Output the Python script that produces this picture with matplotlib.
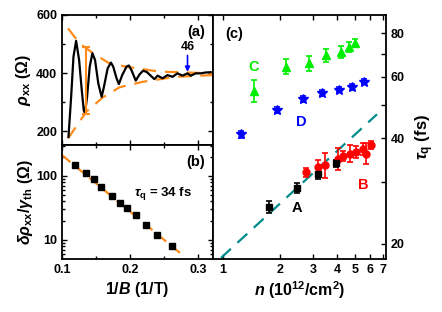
import matplotlib
matplotlib.use('Agg')
import matplotlib.pyplot as plt
from matplotlib.ticker import FixedLocator, FixedFormatter, NullFormatter, NullLocator

plt.rcParams['font.family'] = ['Liberation Sans', 'DejaVu Sans']
plt.rcParams['font.weight'] = 'bold'
plt.rcParams['axes.labelweight'] = 'bold'
plt.rcParams['mathtext.fontset'] = 'custom'
plt.rcParams['mathtext.rm'] = 'Liberation Sans:bold'
plt.rcParams['mathtext.it'] = 'Liberation Sans:italic:bold'
plt.rcParams['mathtext.bf'] = 'Liberation Sans:bold'

# (a) SdH oscillation, rho_xx vs 1/B
inv_b_a = [0.1097, 0.1136, 0.117, 0.1209, 0.1253, 0.1292, 0.1321, 0.134, 0.137, 0.1409,
           0.1448, 0.1487, 0.1535, 0.1584, 0.1618, 0.1672, 0.172, 0.1754, 0.1803, 0.1837,
           0.1886, 0.1949, 0.1983, 0.2022, 0.2085, 0.2139, 0.2192, 0.2245, 0.2300, 0.2358,
           0.2406, 0.2479, 0.2552, 0.2625, 0.2698, 0.2771, 0.2844, 0.2893, 0.2966, 0.3039,
           0.3112, 0.3185]
rho_a = [180, 318, 456, 511, 445, 341, 272, 261, 318, 422,
         468, 445, 364, 318, 353, 416, 436, 422, 382, 362,
         393, 422, 426, 410, 374, 395, 408, 404, 392, 379,
         391, 382, 393, 387, 399, 391, 399, 391, 399, 399,
         402, 403]
env_x = [0.109, 0.126, 0.146, 0.170, 0.1945, 0.243, 0.321]
env_upper = [554, 502, 468, 433, 422, 405, 399]
env_low_x = [0.109, 0.136, 0.160, 0.1847, 0.219, 0.267, 0.321]
env_lower = [175, 267, 316, 351, 370, 387, 393]
bar_x = 0.135
bar_lo, bar_hi = 260, 491
arrow_x = 0.2845

# (b) Dingle plot
inv_b_b = [0.120, 0.135, 0.147, 0.158, 0.173, 0.186, 0.196, 0.209, 0.224, 0.239, 0.261]
amp_b = [148, 113, 89, 68, 48.7, 38.3, 31.3, 24, 17.1, 12, 8.05]
fit_b_x = [0.1, 0.275]
fit_b_y = [213, 6.0]

# (c) tau_q vs n
n_A = [1.75, 2.46, 3.17, 3.94]
tau_A = [25.4, 28.9, 31.7, 34.0]
err_A = [1.0, 1.0, 1.0, 0.8]
n_B = [2.76, 3.17, 3.47, 4.05, 4.30, 4.66, 5.05, 5.47, 5.70, 6.01]
tau_B = [32.0, 33.1, 33.6, 35.0, 35.6, 36.2, 36.6, 37.4, 36.2, 38.2]
err_B = [1.0, 1.5, 2.8, 2.5, 1.2, 2.0, 1.5, 1.5, 2.5, 1.0]
n_C = [1.46, 2.16, 2.84, 3.51, 4.22, 4.62, 4.95]
tau_C = [54.7, 64.2, 65.6, 69.3, 70.8, 73.2, 74.9]
err_C = [4.0, 3.2, 3.2, 3.0, 3.0, 2.5, 2.0]
n_D = [1.25, 1.93, 2.65, 3.35, 4.08, 4.79, 5.52]
tau_D = [41.1, 48.2, 52.0, 54.0, 55.2, 56.2, 58.1]
err_D = [1.0, 1.0, 1.0, 1.0, 1.0, 1.0, 1.0]
fit_c_n = [0.98, 6.5]
fit_c_tau = [18.2, 46.9]

orange = '#ff8c1a'
teal = '#008b8b'
green = '#00ee00'

fig = plt.figure(figsize=(4.42, 3.12), dpi=100)
ax_a = fig.add_axes([0.140, 0.535, 0.342, 0.417])
ax_b = fig.add_axes([0.140, 0.171, 0.342, 0.364], sharex=ax_a)
ax_c = fig.add_axes([0.482, 0.171, 0.391, 0.781])

for ax in (ax_a, ax_b, ax_c):
    for s in ax.spines.values():
        s.set_linewidth(1.3)
    ax.tick_params(which='both', direction='in', top=True, right=True,
                   width=1.0, labelsize=9)
    ax.tick_params(which='major', length=3.5)
    ax.tick_params(which='minor', length=2.5)

# panel (a)
ax_a.plot(env_x, env_upper, color=orange, lw=1.6, dashes=(6, 4))
ax_a.plot(env_low_x, env_lower, color=orange, lw=1.6, dashes=(6, 4))
ax_a.plot(inv_b_a, rho_a, color='black', lw=1.6)
ax_a.errorbar([bar_x], [(bar_lo + bar_hi) / 2], yerr=[(bar_hi - bar_lo) / 2],
              fmt='none', ecolor=orange, elinewidth=1.5, capsize=3, capthick=1.5)
ax_a.annotate('46', xy=(arrow_x, 404), xytext=(arrow_x, 470), ha='center', va='bottom',
              fontsize=9, fontweight='bold',
              arrowprops=dict(arrowstyle='-|>', color='blue', lw=1.2, mutation_scale=7,
                              shrinkA=0, shrinkB=0))
ax_a.set_ylim(152, 600)
ax_a.set_xlim(0.1, 0.322)
ax_a.yaxis.set_major_locator(FixedLocator([200, 400, 600]))
ax_a.yaxis.set_minor_locator(FixedLocator([300, 500]))
ax_a.xaxis.set_major_locator(FixedLocator([0.1, 0.2, 0.3]))
ax_a.xaxis.set_minor_locator(FixedLocator([0.15, 0.25]))
ax_a.tick_params(labelbottom=False)
ax_a.set_ylabel(r'$\rho_{\mathbf{xx}}$ ($\Omega$)', fontsize=11.5, labelpad=2)
ax_a.text(0.95, 0.87, '(a)', transform=ax_a.transAxes, ha='right', va='center',
          fontsize=10.5, fontweight='bold')

# panel (b)
ax_b.set_yscale('log')
ax_b.plot(fit_b_x, fit_b_y, color=orange, lw=1.6, dashes=(5, 3))
ax_b.plot(inv_b_b, amp_b, 's', color='black', ms=4.5)
ax_b.set_ylim(5.05, 305)
ax_b.yaxis.set_major_locator(FixedLocator([10, 100]))
ax_b.yaxis.set_major_formatter(FixedFormatter(['10', '100']))
ax_b.yaxis.set_minor_formatter(NullFormatter())
ax_b.xaxis.set_major_formatter(FixedFormatter(['0.1', '0.2', '0.3']))
ax_b.set_xlabel(r'1/$\mathit{B}$ (1/T)', fontsize=11.5, labelpad=3)
ax_b.set_ylabel(r'$\delta\rho_{\mathbf{xx}}/\gamma_{\mathbf{th}}$ ($\Omega$)',
                fontsize=11.5, labelpad=1)
ax_b.text(0.95, 0.85, '(b)', transform=ax_b.transAxes, ha='right', va='center',
          fontsize=10.5, fontweight='bold')
ax_b.text(0.249, 54, r'$\tau_{\mathbf{q}}$ = 34 fs', ha='center', va='center',
          fontsize=9.5, fontweight='bold')

# panel (c)
ax_c.set_xscale('log')
ax_c.set_yscale('log')
ax_c.plot(fit_c_n, fit_c_tau, color=teal, lw=1.6, dashes=(6, 4))
ax_c.errorbar(n_C, tau_C, yerr=err_C, fmt='^', color=green, ms=5.5,
              elinewidth=1.2, capsize=2.5, capthick=1.2)
ax_c.errorbar(n_D, tau_D, yerr=err_D, fmt='*', color='blue', ms=7.5,
              elinewidth=1.2, capsize=2, capthick=1.2)
ax_c.errorbar(n_B, tau_B, yerr=err_B, fmt='o', color='red', ms=5,
              elinewidth=1.2, capsize=2.5, capthick=1.2)
ax_c.errorbar(n_A, tau_A, yerr=err_A, fmt='s', color='black', ms=4.5,
              elinewidth=1.2, capsize=2.5, capthick=1.2)
ax_c.set_xlim(0.889, 7.24)
ax_c.set_ylim(18.1, 90.3)
ax_c.xaxis.set_major_locator(FixedLocator([1, 2, 3, 4, 5, 6, 7]))
ax_c.xaxis.set_major_formatter(FixedFormatter(['1', '2', '3', '4', '5', '6', '7']))
ax_c.xaxis.set_minor_locator(NullLocator())
ax_c.yaxis.set_major_locator(FixedLocator([20, 30, 40, 50, 60, 70, 80]))
ax_c.yaxis.set_major_formatter(FixedFormatter(['20', '', '40', '', '60', '', '80']))
ax_c.yaxis.set_minor_locator(NullLocator())
ax_c.tick_params(axis='y', left=False, labelleft=False, labelright=True)
ax_c.yaxis.set_label_position('right')
ax_c.set_ylabel(r'$\tau_{\mathbf{q}}$ (fs)', fontsize=12, labelpad=6)
ax_c.set_xlabel(r'$\mathit{n}$ (10$^{\mathbf{12}}$/cm$^{\mathbf{2}}$)', fontsize=11.5, labelpad=3)
ax_c.text(0.07, 0.92, '(c)', transform=ax_c.transAxes, ha='left', va='center',
          fontsize=10.5, fontweight='bold')
ax_c.text(1.46, 64, 'C', color=green, ha='center', va='center', fontsize=10.5, fontweight='bold')
ax_c.text(2.6, 44.5, 'D', color='blue', ha='center', va='center', fontsize=10.5, fontweight='bold')
ax_c.text(2.45, 25.3, 'A', color='black', ha='center', va='center', fontsize=10.5, fontweight='bold')
ax_c.text(5.5, 29.5, 'B', color='red', ha='center', va='center', fontsize=10.5, fontweight='bold')

for ax in (ax_a, ax_b, ax_c):
    for lab in ax.get_xticklabels() + ax.get_yticklabels():
        lab.set_fontweight('bold')

fig.savefig('out.png', dpi=100)
